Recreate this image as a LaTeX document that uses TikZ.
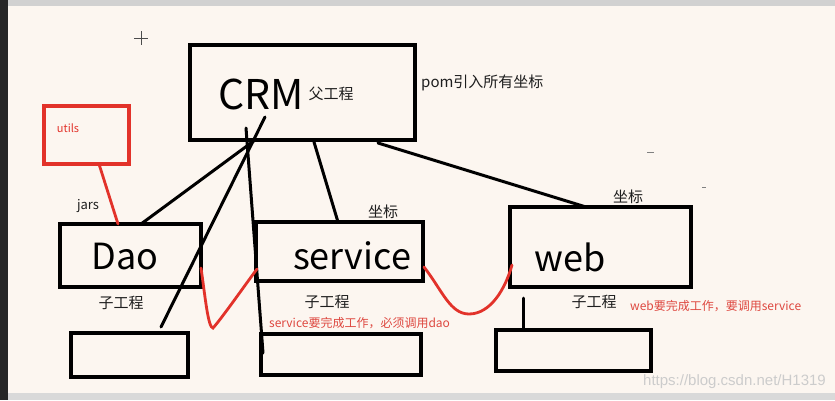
\documentclass[tikz,border=0pt]{standalone}
\usepackage{fontspec}
\setmainfont{Noto Sans CJK SC}
\newfontfamily\wmfont{Liberation Sans}
\definecolor{bg}{RGB}{252,246,240}
\definecolor{redl}{RGB}{226,50,42}
\definecolor{redt}{RGB}{222,72,64}
\definecolor{txt}{RGB}{30,30,30}
\begin{document}
\begin{tikzpicture}[x=1pt,y=-1pt,
  box/.style={draw=black,line width=3.5pt,inner sep=0pt},
  redbox/.style={draw=redl,line width=3.5pt,inner sep=0pt},
  conn/.style={draw=black,line width=3pt,line cap=round},
  redconn/.style={draw=redl,line width=2.8pt,line cap=round},
  big/.style={inner sep=0pt,text=black,font=\fontsize{36}{40}\selectfont},
  small/.style={inner sep=0pt,text=txt,font=\fontsize{15}{17}\selectfont},
  note/.style={inner sep=0pt,text=redt,font=\fontsize{12}{14}\selectfont},
]
% background and frame
\fill[bg] (0,0) rectangle (835,400);
\useasboundingbox (0,0) rectangle (835,400);
\fill[black!85] (0,0) rectangle (8,400);
\fill[black!18] (8,0) rectangle (835,6);
\fill[black!15] (8,393) rectangle (835,400);

% boxes
\node[box,line width=4pt,minimum width=225pt,minimum height=95pt] (crm) at (302.5,92.5) {};
\node[box,minimum width=141pt,minimum height=63pt] (dao) at (130.5,255.5) {};
\node[box,minimum width=167pt,minimum height=59pt] (service) at (339.5,251.5) {};
\node[box,minimum width=181pt,minimum height=80pt] (web) at (600.5,247) {};
\node[redbox,minimum width=85pt,minimum height=58pt] (utils) at (86.5,135) {};
\node[box,minimum width=117pt,minimum height=44pt] (b1) at (129.5,355) {};
\node[box,minimum width=160pt,minimum height=41pt] (b2) at (341,354.5) {};
\node[box,minimum width=155pt,minimum height=41pt] (b3) at (573.5,350.5) {};

% texts
\node[big,font=\fontsize{41}{45}\selectfont] (crmt) at (261,94) {CRM};
\node[small] (fu) at (331,94) {父工程};
\node[small,anchor=west] (pom) at (421,83) {pom引入所有坐标};
\node[note,text=redl,font=\fontsize{11}{13}\selectfont] (utilst) at (68,128) {utils};
\node[small,font=\fontsize{13}{15}\selectfont] (jars) at (88,206) {jars};
\node[big] (daot) at (125,257) {Dao};
\node[big] (servicet) at (352,256) {service};
\node[big] (webt) at (570,257) {web};
\node[small] (zb1) at (383,212) {坐标};
\node[small] (zb2) at (628,197) {坐标};
\node[small] (zg1) at (121,303) {子工程};
\node[small] (zg2) at (327,302) {子工程};
\node[small] (zg3) at (594,302) {子工程};
\node[note,anchor=west] (n1) at (269,323) {service要完成工作，必须调用dao};
\node[note,anchor=west] (n2) at (630,306) {web要完成工作，要调用service};
\node[inner sep=0pt,text=black!20,font=\wmfont\fontsize{15}{17}\selectfont,anchor=east] (wm) at (826,382) {https://blog.csdn.net/H1319};

% small marks
\draw[black!70,line width=0.8pt] (134,38) -- (148,38) (141,31) -- (141,45);
\draw[black!50,line width=1pt] (647,152) -- (654,152);
\draw[black!50,line width=1pt] (702,187) -- (706,187);

% connector end points
\coordinate (p1a) at (265,117); \coordinate (p1b) at (161,327);
\coordinate (p2a) at (246,128); \coordinate (p2b) at (263,353);
\coordinate (p3a) at (255,140); \coordinate (p3b) at (141,224);
\coordinate (p4a) at (314,142); \coordinate (p4b) at (338,222);
\coordinate (p5a) at (378,143); \coordinate (p5b) at (586,207);
\coordinate (p6a) at (523,298); \coordinate (p6b) at (523,330);
\coordinate (u1) at (99,164); \coordinate (u2) at (118,224);
\coordinate (r1a) at (201,268); \coordinate (r1m) at (213,328); \coordinate (r1b) at (257,269);
\coordinate (r2a) at (424,267); \coordinate (r2m) at (469,314); \coordinate (r2b) at (512,265);

% black connectors
\draw[conn] (p1a) -- (p1b);
\draw[conn] (p2a) -- (p2b);
\draw[conn] (p3a) -- (p3b);
\draw[conn] (p4a) -- (p4b);
\draw[conn] (p5a) -- (p5b);
\draw[conn] (p6a) -- (p6b);

% red connectors
\draw[redconn] (u1) -- (u2);
\draw[redconn] (r1a) .. controls (205,295) and (208,328) .. (r1m)
  .. controls (222,318) and (245,285) .. (r1b);
\draw[redconn] (r2a) .. controls (442,290) and (450,314) .. (r2m)
  .. controls (490,314) and (505,290) .. (r2b);
\end{tikzpicture}
\end{document}
